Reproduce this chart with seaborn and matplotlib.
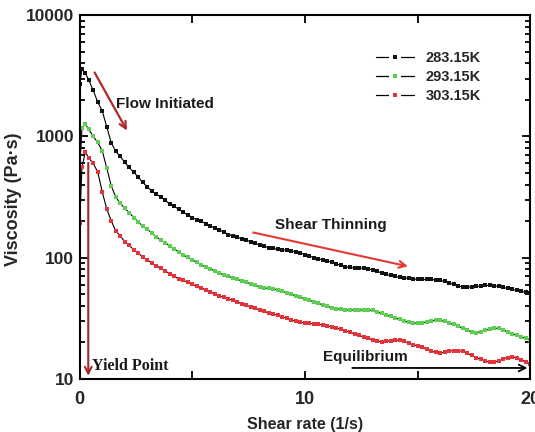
import matplotlib
matplotlib.use("Agg")
import matplotlib.pyplot as plt
import seaborn as sns
import pandas as pd
from matplotlib.lines import Line2D
from matplotlib.legend_handler import HandlerTuple
from matplotlib.ticker import LogLocator, NullLocator, NullFormatter

# ---------------- data ----------------
shear_rate = [0.0, 0.1, 0.25] + [round(0.4 + 0.2 * i, 1) for i in range(99)]

visc_283 = [2700, 3600, 3300,
            2930, 2390, 1920, 1620,
            1200, 883, 752, 683, 609,
            554, 504, 463, 417, 383,
            355, 332, 317, 296, 277,
            264, 250, 236, 225, 214,
            206, 199, 191, 182, 176,
            169, 163, 155, 151, 147,
            143, 139, 135, 131, 127,
            124, 121, 119, 117, 116,
            115, 114, 111, 109, 106,
            103, 100, 97.5, 95.7, 94,
            91.3, 88.7, 86.2, 83.8, 83,
            82.2, 82.2, 81.5, 80.7, 79.2,
            77, 74.8, 72.7, 71.3, 70,
            68.7, 68, 67.4, 66.7, 66.1,
            66, 66, 66, 65.5, 64.9,
            63.6, 61.8, 60.1, 58.4, 57.3,
            57.3, 57.3, 57.8, 58.4, 59,
            59, 58.4, 57.8, 56.7, 55.7,
            54.7, 53.7, 52.7, 51.8, 51.2]

visc_293 = [548, 1170, 1265,
            1140, 1000, 891, 759,
            549, 390, 316, 280, 255,
            234, 214, 197, 182, 171,
            160, 148, 140, 132, 125,
            118, 111, 105, 100.4, 95.8,
            91.3, 87.1, 83.8, 80.7, 77.6,
            74.8, 72, 70, 68, 66.1,
            64.2, 62.5, 60.7, 59, 57.3,
            56.2, 55.7, 55.2, 54.2, 52.6,
            51.2, 49.7, 48.3, 47, 45.7,
            44.4, 43.1, 41.9, 40.7, 39.6,
            38.5, 37.8, 37.4, 37.1, 37.1,
            37.1, 37.1, 37.1, 37.0, 36.7,
            35.7, 34.7, 33.7, 32.7, 31.8,
            31, 30.1, 29.2, 28.8, 28.8,
            28.9, 29.5, 30.1, 30.3, 30.3,
            29.8, 28.9, 28.1, 27.1, 26.1,
            25.1, 24.4, 24.1, 24.4, 25.1,
            25.8, 26.2, 26.1, 25.4, 24.4,
            23.5, 22.9, 22.2, 21.6, 21]

visc_303 = [194, 560, 743,
            664, 598, 509, 348,
            252, 201, 166, 151, 135,
            126, 116, 109, 101, 95.8,
            90.4, 85.5, 81.5, 77.6, 73.5,
            70, 66.7, 64.9, 62.5, 60.1,
            57.9, 56.2, 54.2, 52.1, 50.2,
            48.3, 47, 45.7, 44.4, 43.1,
            41.5, 40.4, 39.2, 38.1, 37.1,
            36, 35, 34.3, 33.4, 32.4,
            31.5, 30.6, 29.8, 29.2, 29,
            28.7, 28.4, 28.1, 27.9, 27.3,
            26.8, 26.3, 25.6, 24.9, 24.2,
            23.5, 22.8, 22.2, 21.6, 21,
            20.4, 20.2, 20.4, 20.6, 20.8,
            20.8, 20.4, 19.8, 19.2, 18.7,
            18.2, 17.7, 17, 16.5, 16.4,
            16.5, 16.9, 17.1, 17.1, 16.9,
            16.2, 15.6, 15, 14.5, 14.1,
            13.7, 13.7, 14.1, 14.6, 15,
            15.2, 14.9, 14.4, 13.8, 13.3]

series_labels = ["283.15K", "293.15K", "303.15K"]
marker_colors = ["#111111", "#5ccf52", "#e8323a"]

y_ticks = [10, 100, 1000, 10000]
y_tick_labels = ["10", "100", "1000", "10000"]
x_ticks = [0, 5, 10, 15, 20]
x_tick_labels = ["0", "", "10", "", "20"]

# ---------------- style ----------------
sns.set_theme(style="ticks")
plt.rcParams["font.family"] = ["Liberation Sans", "DejaVu Sans"]
plt.rcParams["font.weight"] = "bold"

fig, ax = plt.subplots(figsize=(5.35, 4.32), dpi=100)
fig.subplots_adjust(left=0.149, right=0.991, bottom=0.123, top=0.965)

series = [visc_283, visc_293, visc_303]
for vals, lab, mc in zip(series, series_labels, marker_colors):
    df = pd.DataFrame({"Shear rate": shear_rate, "Viscosity": vals})
    sns.lineplot(data=df, x="Shear rate", y="Viscosity", ax=ax,
                 color="black", lw=0.8, marker="s", markersize=2.7,
                 markerfacecolor=mc, markeredgecolor=mc, markeredgewidth=0,
                 sort=False, estimator=None, legend=False)

ax.set_yscale("log")
ax.set_xlim(0, 20)
ax.set_ylim(10, 10000)
ax.set_yticks(y_ticks, labels=y_tick_labels)
ax.yaxis.set_minor_locator(LogLocator(base=10, subs=[2, 3, 4, 5, 6, 7, 8, 9]))
ax.yaxis.set_minor_formatter(NullFormatter())
ax.set_xticks(x_ticks, labels=x_tick_labels)
ax.xaxis.set_minor_locator(NullLocator())

for s in ax.spines.values():
    s.set_visible(True)
    s.set_linewidth(1.5)
    s.set_color("black")

ax.tick_params(which="both", direction="in", top=True, right=True,
               color="black", width=1.3)
ax.tick_params(which="major", length=6)
ax.tick_params(which="minor", length=3.5)
ax.tick_params(axis="y", which="major", labelsize=12.5, pad=4)
ax.tick_params(axis="x", which="major", labelsize=13, pad=9)
for t in ax.get_xticklabels() + ax.get_yticklabels():
    t.set_fontweight("bold")

ax.set_xlabel("Shear rate (1/s)", fontsize=11.5, fontweight="bold", labelpad=6)
ax.set_ylabel("Viscosity (Pa·s)", fontsize=13, fontweight="bold")
ax.yaxis.set_label_coords(-0.128, 0.495)

# ---------------- legend ----------------
handles = []
for mc in marker_colors:
    base = Line2D([0], [0], color="black", lw=0.9, marker="s",
                  markersize=8.6, markerfacecolor="white",
                  markeredgewidth=0)
    dot = Line2D([0], [0], linestyle="none", marker="s", markersize=2.6,
                 markerfacecolor=mc, markeredgecolor=mc, markeredgewidth=0)
    handles.append((base, dot))
leg = ax.legend(handles, series_labels, loc="upper left",
                bbox_to_anchor=(0.657, 0.9), frameon=False,
                borderaxespad=0, borderpad=0, handlelength=2.6,
                handletextpad=0.82, labelspacing=0.33, numpoints=1,
                handler_map={tuple: HandlerTuple(ndivide=1)},
                prop={"weight": "bold", "size": 10.5})

# ---------------- annotations ----------------
ax.annotate("", xy=(2.16, 1067), xytext=(0.6, 3524),
            arrowprops=dict(arrowstyle="->", color="#b0282c", lw=1.6))
ax.text(1.62, 1849, "Flow Initiated", fontsize=11, fontweight="bold",
        color="#1a1a1a", va="center", ha="left")

ax.annotate("", xy=(14.69, 83.8), xytext=(7.58, 163),
            arrowprops=dict(arrowstyle="->", color="#e53935", lw=1.5))
ax.text(8.69, 186, "Shear Thinning", fontsize=11, fontweight="bold",
        color="#1a1a1a", va="center", ha="left")

ax.annotate("", xy=(20.0, 12.3), xytext=(11.98, 12.3),
            arrowprops=dict(arrowstyle="->", color="black", lw=1.3))
ax.text(10.78, 15.2, "Equilibrium", fontsize=11, fontweight="bold",
        color="#1a1a1a", va="center", ha="left")

ax.annotate("", xy=(0.38, 10.05), xytext=(0.38, 638),
            arrowprops=dict(arrowstyle="->", color="#a3262a", lw=1.5))
ax.text(0.56, 12.8, "Yield Point", fontsize=11.5, fontweight="bold",
        family=["Liberation Serif", "DejaVu Serif"], color="#1a1a1a",
        va="center", ha="left")

fig.savefig("out.png", dpi=100, facecolor="white")
